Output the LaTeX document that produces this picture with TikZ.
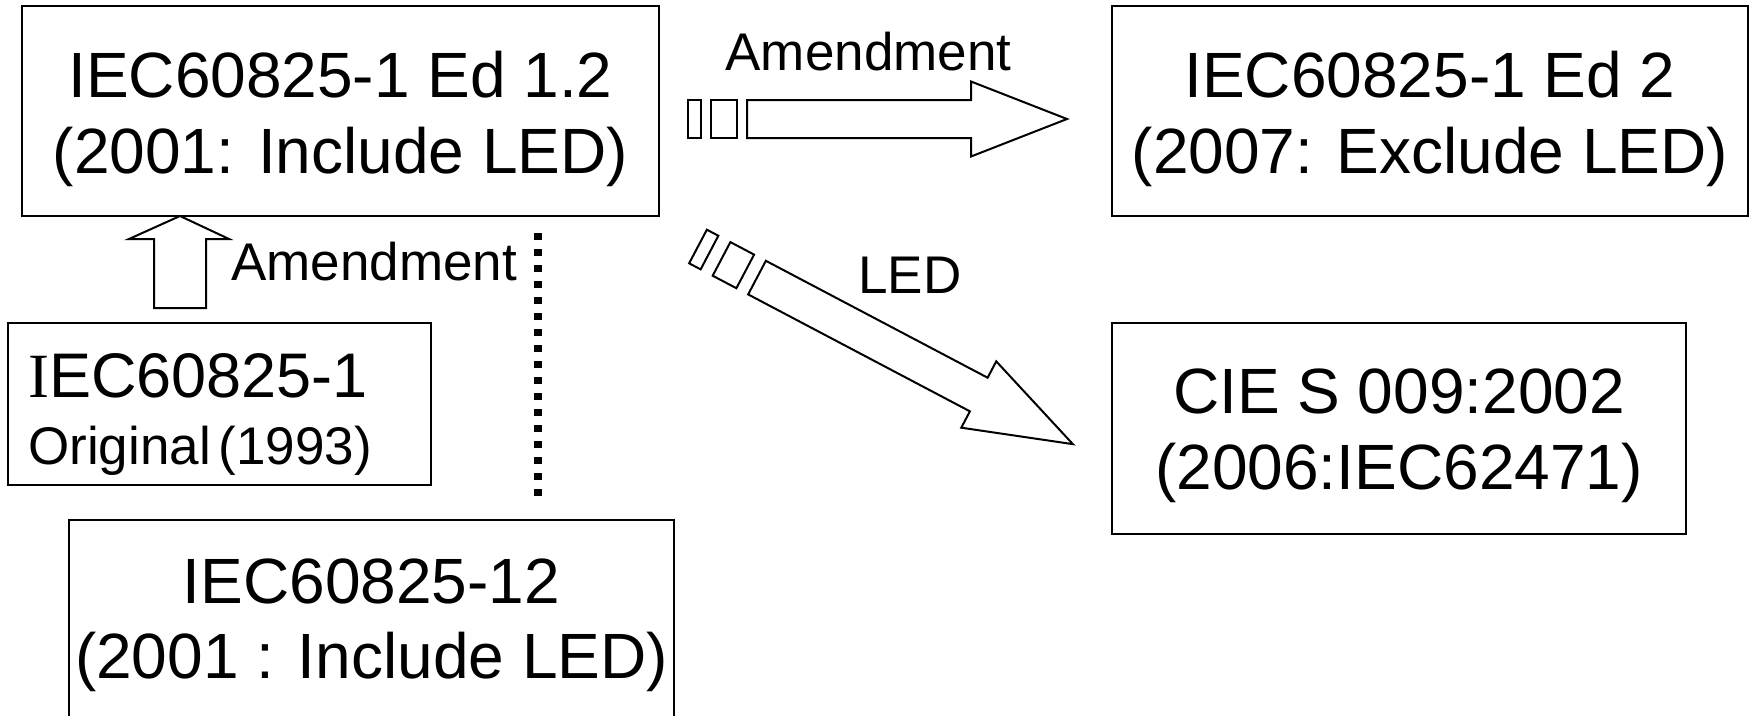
\documentclass[tikz,border=0pt]{standalone}
\usepackage{fontspec}
\setmainfont{Liberation Sans}
\newfontfamily\serifI{Liberation Serif}
\tikzset{
  pics/blockarrow/.style n args={5}{code={
    \draw[arr] (0,-19) rectangle (13,19);
    \draw[arr] (#1,-19) rectangle (#2,19);
    \draw[arr] (#3,-19) -- (#4,-19) -- (#4,-37.5) -- (#5,0) -- (#4,37.5) -- (#4,19) -- (#3,19) -- cycle;
  }}
}
\begin{document}
\begin{tikzpicture}[x=1pt,y=-1pt,
  box/.style={draw, line width=2pt, inner sep=0pt},
  big/.style={font=\fontsize{64}{76}\selectfont, inner sep=0pt, anchor=base},
  lab/.style={font=\fontsize{53}{60}\selectfont, inner sep=0pt, anchor=base},
  arr/.style={draw, line width=2pt, fill=white, line join=miter},
]
\useasboundingbox (0,0) rectangle (1751,715);
\clip (0,0) rectangle (1751,715);

% boxes
\node[box, minimum width=637pt, minimum height=210pt] (A) at (340.5,111) {};
\node[box, minimum width=636pt, minimum height=210pt] (B) at (1430,111) {};
\node[box, minimum width=423pt, minimum height=162pt] (C) at (219.5,404) {};
\node[box, minimum width=605pt, minimum height=240pt, anchor=north] (D) at (371.5,519) {};
\node[box, minimum width=574pt, minimum height=211pt] (E) at (1399,428.5) {};

% box texts
\node[big] (A1) at (340.5,97) {IEC60825-1 Ed 1.2};
\node[big] (A2) at (340.5,173) {(2001: Include LED)};
\node[big] (B1) at (1430,97) {IEC60825-1 Ed 2};
\node[big] (B2) at (1430,173) {(2007: Exclude LED)};
\node[big] (E1) at (1399,413) {CIE S 009:2002};
\node[big] (E2) at (1399,489) {(2006:IEC62471)};
\node[big] (D1) at (371.5,603) {IEC60825-12};
\node[big] (D2) at (371.5,678) {(2001 : Include LED)};
\node[font=\fontsize{63}{70}\selectfont, inner sep=0pt, anchor=base west] (C1) at (28,397) {{\serifI I}EC60825-1};
\node[font=\fontsize{53}{60}\selectfont, inner sep=0pt, anchor=base west] (C2) at (28,464) {Original\hspace{8pt}(1993)};

% labels
\node[lab] (L1) at (868.5,70) {Amendment};
\node[lab] (L2) at (374,280) {Amendment};
\node[lab] (L3) at (910,293) {LED};

% up arrow from C to A
\draw[arr] (154,308) -- (154,239) -- (129,239) -- (180,216) -- (229,239) -- (206,239) -- (206,308) -- cycle;

% block arrows
\pic at (688,119) {blockarrow={23}{49}{59}{283}{379}};
\pic[rotate=-27.8] at (698,246.5) {blockarrow={26.6}{53.4}{66.7}{317.4}{423.8}};

% dotted separator
\coordinate (dtop) at (538,233);
\coordinate (dbot) at (538,500);
\draw[line width=8pt, dash pattern=on 7pt off 9pt] (dtop) -- (dbot);
\end{tikzpicture}
\end{document}
